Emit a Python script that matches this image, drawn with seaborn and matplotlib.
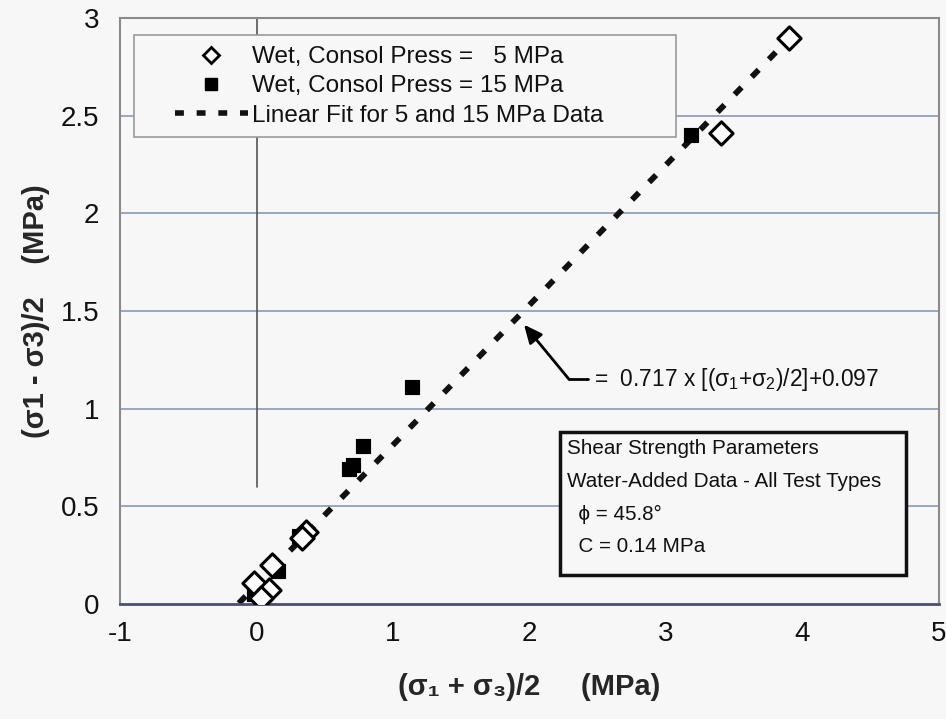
import numpy as np
import pandas as pd
import matplotlib
matplotlib.use("Agg")
import matplotlib.pyplot as plt
import seaborn as sns
from matplotlib.lines import Line2D
from matplotlib.patches import Rectangle

# data
p5_x = [3.90, 3.40, 0.36, 0.11, -0.02, 0.09, 0.03, 0.33]
p5_y = [2.90, 2.41, 0.37, 0.20, 0.11, 0.07, 0.03, 0.34]
p15_x = [3.18, 1.14, 0.78, 0.71, 0.68, 0.31, 0.16, 0.00, -0.02]
p15_y = [2.40, 1.11, 0.81, 0.71, 0.69, 0.35, 0.17, 0.08, 0.05]

fit_slope = 0.717
fit_icpt = 0.097
fit_x = [-0.13, 3.97]

lab5 = "Wet, Consol Press =   5 MPa"
lab15 = "Wet, Consol Press = 15 MPa"
labfit = "Linear Fit for 5 and 15 MPa Data"
box_lines = ["Shear Strength Parameters", "Water-Added Data - All Test Types",
             "  \u03d5 = 45.8\u00b0", "  C = 0.14 MPa"]

sns.set_style("white")
plt.rcParams['font.family'] = ['Liberation Sans', 'DejaVu Sans']
plt.rcParams['axes.unicode_minus'] = False
plt.rcParams['mathtext.fontset'] = 'custom'
plt.rcParams['mathtext.rm'] = 'Liberation Sans'
plt.rcParams['mathtext.it'] = 'Liberation Sans'

bg = '#f7f7f7'
fig = plt.figure(figsize=(9.46, 7.19), dpi=100, facecolor=bg)
ax = fig.add_axes([120/946, 1 - 604/719, (939-120)/946, (604-18)/719])
ax.set_facecolor(bg)

ax.set_xlim(-1, 5)
ax.set_ylim(0, 3)
ax.set_xticks(range(-1, 6))
ax.set_yticks([0, 0.5, 1, 1.5, 2, 2.5, 3])
ax.set_yticklabels(['0', '0.5', '1', '1.5', '2', '2.5', '3'])
for y in [0.5, 1, 1.5, 2, 2.5]:
    ax.axhline(y, color='#8c98b8', lw=1.2, zorder=0)
ax.axvline(0, ymin=0.2, color='#555555', lw=1.2, zorder=0)

for s in ['left', 'top', 'right']:
    ax.spines[s].set_color('#8a8a8a')
    ax.spines[s].set_linewidth(1.5)
ax.spines['bottom'].set_color('#4a5070')
ax.spines['bottom'].set_linewidth(2)
ax.tick_params(axis='x', direction='out', length=6, width=1.2, color='#333333',
               labelsize=20, pad=6, labelcolor='#111111')
ax.tick_params(axis='y', length=0, labelsize=20, pad=15, labelcolor='#111111')

# fit line
fx = np.array(fit_x)
fit_df = pd.DataFrame({'x': fx, 'y': fit_slope * fx + fit_icpt})
sns.lineplot(data=fit_df, x='x', y='y', ax=ax, color='#111111', lw=4.2,
             linestyle=(0, (1.7, 2.5)), zorder=2)

df5 = pd.DataFrame({'x': p5_x, 'y': p5_y})
df15 = pd.DataFrame({'x': p15_x, 'y': p15_y})
sns.scatterplot(data=df15, x='x', y='y', ax=ax, marker='s', s=105, color='black',
                edgecolor='black', zorder=3)
sns.scatterplot(data=df5, x='x', y='y', ax=ax, marker='D', s=140, facecolor='white',
                edgecolor='black', linewidth=2.2, zorder=4)

ax.set_xlabel("(\u03c3\u2081 + \u03c3\u2083)/2     (MPa)", fontsize=21, fontweight='bold')
ax.set_ylabel("(\u03c31 - \u03c33)/2    (MPa)", fontsize=21, fontweight='bold')
ax.xaxis.set_label_coords(0.5, -0.117)
ax.yaxis.set_label_coords(-0.085, 0.5)

# annotation arrow
ax.plot([2.29, 2.43], [1.15, 1.15], color='black', lw=2, zorder=5)
ax.annotate("", xy=(1.96, 1.43), xytext=(2.29, 1.15),
            arrowprops=dict(arrowstyle='-|>,head_length=1.1,head_width=0.5',
                            color='black', lw=2, shrinkA=0, shrinkB=0), zorder=5)
ax.text(2.47, 1.15, r"=  0.717 x [($\sigma_1$+$\sigma_2$)/2]+0.097", fontsize=16.4,
        va='center', ha='left', zorder=5, color='#111111')

# parameter box
ax.add_patch(Rectangle((560/946, 1 - 575/719), (906-560)/946, (575-432)/719,
                       transform=fig.transFigure, facecolor=bg, edgecolor='#111111',
                       lw=2.5, zorder=6))
for i, t in enumerate(box_lines):
    fig.text(567/946, 1 - (449 + 32.5*i)/719, t, fontsize=14.9, va='center',
             ha='left', zorder=7, color='#111111')

# legend
ax.add_patch(Rectangle((134/946, 1 - 137/719), (676-134)/946, (137-35)/719,
                       transform=fig.transFigure, facecolor=bg, edgecolor='#9a9a9a',
                       lw=1.2, zorder=6))
handles = [Line2D([], [], marker='D', ls='none', mfc='white', mec='black', mew=2, ms=8),
           Line2D([], [], marker='s', ls='none', color='black', ms=8),
           Line2D([], [], color='#111111', lw=4, ls=(0, (1.6, 2.3)))]
leg = ax.legend(handles, [lab5, lab15, labfit], loc='upper left',
                bbox_to_anchor=(158/946, 1 - 29/719), bbox_transform=fig.transFigure,
                frameon=False, fontsize=17.5, handlelength=3.0, handletextpad=0.15,
                labelspacing=0.3, borderpad=0.2)
leg.set_zorder(8)
for t in leg.get_texts():
    t.set_color('#111111')

fig.savefig("out.png", dpi=100, facecolor=bg)
